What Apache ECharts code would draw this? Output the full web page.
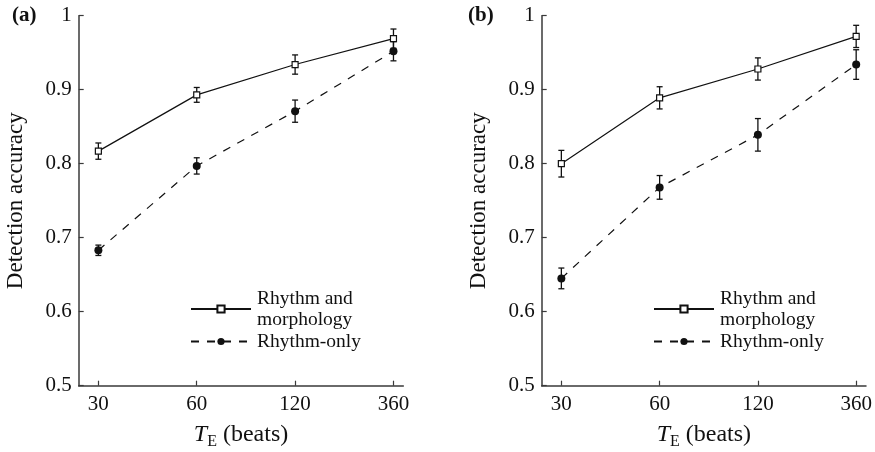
<!DOCTYPE html>
<html>
<head>
<meta charset="utf-8">
<script src="https://cdn.jsdelivr.net/npm/echarts@6/dist/echarts.min.js"></script>
<style>
html,body{margin:0;padding:0;background:#fff;}
#c{width:875px;height:452px;}
</style>
</head>
<body>
<div id="c"></div>
<script>
// ---- data ----
var categories = ['30', '60', '120', '360'];
var tickPositions = [0, 1, 2, 3];
var yTicks = [0.5, 0.6, 0.7, 0.8, 0.9, 1];
var seriesNames = ['Rhythm and\nmorphology', 'Rhythm-only'];
var panelLabels = ['(a)', '(b)'];

var rmA = [0.817, 0.893, 0.934, 0.969];
var rmAErr = [0.011, 0.010, 0.013, 0.013];
var roA = [0.683, 0.797, 0.871, 0.952];
var roAErr = [0.007, 0.011, 0.015, 0.013];

var rmB = [0.800, 0.889, 0.928, 0.972];
var rmBErr = [0.018, 0.015, 0.015, 0.015];
var roB = [0.645, 0.768, 0.839, 0.934];
var roBErr = [0.014, 0.016, 0.022, 0.020];

// ---- helpers ----
var FONT = 'Liberation Serif';
var INK = '#111';
var AXIS = '#3a3a3a';

function pts(vals) {
  return vals.map(function (v, i) { return [tickPositions[i], v]; });
}
function errPts(vals, errs) {
  return vals.map(function (v, i) { return [tickPositions[i], v - errs[i], v + errs[i]]; });
}
function errorSeries(vals, errs, idx) {
  return {
    type: 'custom',
    name: 'err' + idx + '_' + vals[0],
    xAxisIndex: idx, yAxisIndex: idx,
    z: 1,
    silent: true,
    data: errPts(vals, errs),
    renderItem: function (params, api) {
      var x = api.value(0);
      var lo = api.coord([x, api.value(1)]);
      var hi = api.coord([x, api.value(2)]);
      var w = 3;
      var st = { stroke: INK, lineWidth: 1.3 };
      return {
        type: 'group',
        children: [
          { type: 'line', shape: { x1: lo[0], y1: lo[1], x2: hi[0], y2: hi[1] }, style: st },
          { type: 'line', shape: { x1: lo[0] - w, y1: lo[1], x2: lo[0] + w, y2: lo[1] }, style: st },
          { type: 'line', shape: { x1: hi[0] - w, y1: hi[1], x2: hi[0] + w, y2: hi[1] }, style: st }
        ]
      };
    }
  };
}
function rmSeries(vals, idx) {
  return {
    type: 'line', name: seriesNames[0], xAxisIndex: idx, yAxisIndex: idx, z: 3,
    data: pts(vals), symbol: 'rect', symbolSize: 6,
    lineStyle: { color: INK, width: 1.2, type: 'solid' },
    itemStyle: { color: '#fff', borderColor: INK, borderWidth: 1.2 }
  };
}
function roSeries(vals, idx) {
  return {
    type: 'line', name: seriesNames[1], xAxisIndex: idx, yAxisIndex: idx, z: 2,
    data: pts(vals), symbol: 'circle', symbolSize: 8,
    lineStyle: { color: INK, width: 1.2, type: [8, 8] },
    itemStyle: { color: INK, borderWidth: 0 }
  };
}
function xAxis(idx) {
  return {
    type: 'value', gridIndex: idx, min: -0.2, max: 3.1,
    splitLine: { show: false },
    axisLine: { show: true, onZero: false, lineStyle: { color: AXIS, width: 1.5 } },
    axisTick: { show: true, inside: true, length: 5, customValues: tickPositions, lineStyle: { color: AXIS, width: 1.2 } },
    axisLabel: {
      customValues: tickPositions, margin: 8,
      color: INK, fontFamily: FONT, fontSize: 21,
      formatter: function (v) { return categories[Math.round(v)]; }
    },
    name: '{t|T}{s|E} {n|(beats)}',
    nameLocation: 'middle', nameGap: 30,
    nameTextStyle: {
      color: INK, fontFamily: FONT, fontSize: 24,
      rich: {
        t: { fontFamily: FONT, fontSize: 24, fontStyle: 'italic', color: INK, lineHeight: 26 },
        s: { fontFamily: FONT, fontSize: 16, color: INK, lineHeight: 16, padding: [14, 0, 0, 0] },
        n: { fontFamily: FONT, fontSize: 24, color: INK, lineHeight: 26 }
      }
    }
  };
}
function yAxis(idx) {
  return {
    type: 'value', gridIndex: idx, min: 0.5, max: 1, interval: 0.1,
    splitLine: { show: false },
    axisLine: { show: true, onZero: false, lineStyle: { color: AXIS, width: 1.5 } },
    axisTick: { show: true, inside: true, length: 5, lineStyle: { color: AXIS, width: 1.2 } },
    axisLabel: {
      margin: 7, color: INK, fontFamily: FONT, fontSize: 21,
      formatter: function (v) { return Math.abs(v - 1) < 1e-9 ? '1' : v.toFixed(1); }
    },
    name: 'Detection accuracy', nameLocation: 'middle', nameGap: 51,
    nameTextStyle: { color: INK, fontFamily: FONT, fontSize: 23 }
  };
}
function legend(left) {
  return {
    data: seriesNames, orient: 'vertical', left: left, top: 288,
    itemWidth: 60, itemHeight: 9, itemGap: 1, padding: 0,
    selectedMode: false,
    textStyle: { color: INK, fontFamily: FONT, fontSize: 19.5, lineHeight: 21, padding: [0, 0, 0, 1] }
  };
}

var chart = echarts.init(document.getElementById('c'), null, { renderer: 'canvas' });
chart.setOption({
  animation: false,
  backgroundColor: '#fff',
  grid: [
    { left: 78.7, top: 15.7, width: 324.6, height: 370, containLabel: false, outerBoundsMode: 'none' },
    { left: 541.7, top: 15.7, width: 324.3, height: 370, containLabel: false, outerBoundsMode: 'none' }
  ],
  xAxis: [xAxis(0), xAxis(1)],
  yAxis: [yAxis(0), yAxis(1)],
  legend: [legend(190), legend(653)],
  graphic: [
    { type: 'text', left: 12, top: 5, style: { text: panelLabels[0], font: 'bold 21px "Liberation Serif"', fill: INK } },
    { type: 'text', left: 468, top: 5, style: { text: panelLabels[1], font: 'bold 21px "Liberation Serif"', fill: INK } }
  ],
  series: [
    errorSeries(rmA, rmAErr, 0), errorSeries(roA, roAErr, 0),
    rmSeries(rmA, 0), roSeries(roA, 0),
    errorSeries(rmB, rmBErr, 1), errorSeries(roB, roBErr, 1),
    rmSeries(rmB, 1), roSeries(roB, 1)
  ]
});
</script>
</body>
</html>
